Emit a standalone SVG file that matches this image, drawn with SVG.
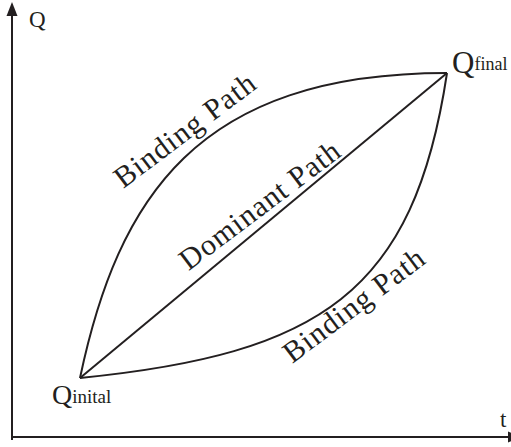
<svg xmlns="http://www.w3.org/2000/svg" width="511" height="447" viewBox="0 0 511 447">
<style>
text{font-family:"Liberation Serif","Times New Roman",serif;fill:#231f20}
.ax{stroke:#231f20;stroke-width:2;fill:none}
.c{stroke:#231f20;stroke-width:2;fill:none}
.lbl{font-size:30px;letter-spacing:1px}
.ah{fill:#231f20}
</style>
<g id="axes">
<line class="ax" x1="12" y1="440" x2="12" y2="14"/>
<polygon class="ah" points="12,2 17.5,16 6.5,16"/>
<line class="ax" x1="11" y1="437" x2="510" y2="437"/>
<polygon class="ah" points="522,437 508,431.5 508,442.5"/>
<text x="29" y="27" font-size="23">Q</text>
<text x="500" y="427" font-size="23">t</text>
</g>
<g id="connectors">
<path class="c" d="M80,378 C118,198 197,73 447,73"/>
<path class="c" d="M80,378 C320,354 414,293 447,73"/>
<line class="c" x1="80" y1="378" x2="447" y2="73"/>
</g>
<g id="labels">
<text class="lbl" transform="translate(191,138) rotate(-37)" text-anchor="middle">Binding Path</text>
<text class="lbl" transform="translate(266,213) rotate(-37)" text-anchor="middle">Dominant Path</text>
<text class="lbl" transform="translate(360,313) rotate(-37)" text-anchor="middle">Binding Path</text>
</g>
<g id="qfinal">
<text x="452" y="73" font-size="31">Q<tspan font-size="18" dy="-3">final</tspan></text>
</g>
<g id="qinitial">
<text x="52" y="404" font-size="28">Q<tspan font-size="19" dy="-1">inital</tspan></text>
</g>
</svg>
